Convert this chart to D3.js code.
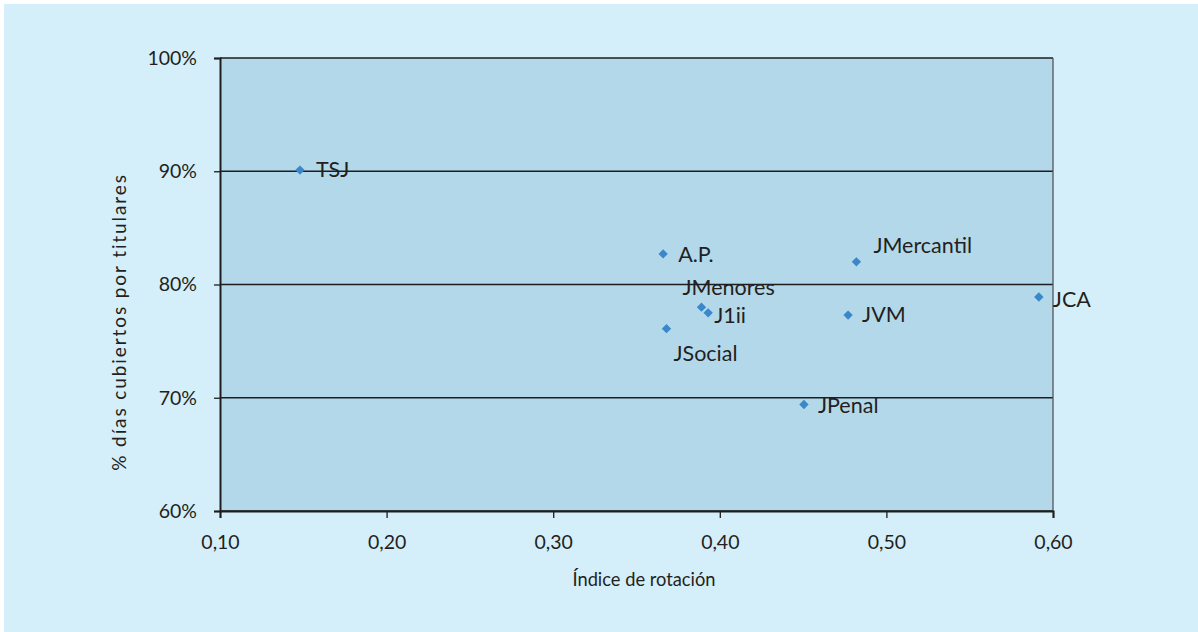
<!DOCTYPE html>
<html><head><meta charset="utf-8">
<script src="https://cdn.jsdelivr.net/npm/d3@7"></script>
<style>body{margin:0;background:#fff}svg{display:block}</style>
</head><body>
<svg id="c" width="1198" height="632"></svg>
<script>
const labels = ["TSJ","A.P.","JMenores","J1ii","JSocial","JMercantil","JVM","JPenal","JCA"];
const xValues = [0.148,0.366,0.389,0.393,0.368,0.482,0.477,0.4505,0.5915];
const yValues = [0.901,0.827,0.780,0.775,0.761,0.820,0.773,0.694,0.789];
const xTicks = [0.10,0.20,0.30,0.40,0.50,0.60];
const yTicks = [0.60,0.70,0.80,0.90,1.00];
// label offsets relative to point [dx, dy]
const labelPos = {
  "TSJ":[16,7],"A.P.":[15,8],"JMenores":[-19,-12],"J1ii":[6,10],"JSocial":[7,32],
  "JMercantil":[17,-9],"JVM":[14,7],"JPenal":[14,8],"JCA":[14,10]
};

const svg = d3.select("#c");
const font = "'Lato', 'Open Sans', sans-serif";
svg.append("rect").attr("x",4).attr("y",4).attr("width",1194).attr("height",628).attr("fill","#d4eefa");

const L=220, R=1053, T=58, B=511;
const x = d3.scaleLinear().domain([0.10,0.60]).range([L,R]);
const y = d3.scaleLinear().domain([0.60,1.00]).range([B,T]);

svg.append("rect").attr("x",L).attr("y",T).attr("width",R-L).attr("height",B-T).attr("fill","#b3d8ea");

// gridlines
svg.append("g").selectAll("line").data(yTicks).join("line")
  .attr("x1",L).attr("x2",R).attr("y1",d=>y(d)).attr("y2",d=>y(d))
  .attr("stroke","#1e1e1e").attr("stroke-width",1.3);
// right border
svg.append("line").attr("x1",R).attr("x2",R).attr("y1",T).attr("y2",B).attr("stroke","#555").attr("stroke-width",1.3);

const fmtX = d => d3.format(".2f")(d).replace(".",",");
const xAxis = svg.append("g").attr("transform",`translate(0,${B})`)
  .call(d3.axisBottom(x).tickValues(xTicks).tickFormat(fmtX).tickSize(7).tickPadding(13));
const yAxis = svg.append("g").attr("transform",`translate(${L},0)`)
  .call(d3.axisLeft(y).tickValues(yTicks).tickFormat(d3.format(".0%")).tickSize(6).tickPadding(17));
[xAxis,yAxis].forEach(a=>{
  a.select(".domain").attr("stroke","#1e1e1e").attr("stroke-width",2);
  a.selectAll(".tick line").attr("stroke","#1e1e1e").attr("stroke-width",1.3);
  a.selectAll("text").attr("font-family",font).attr("font-size",19.5).attr("fill","#231f20");
});
xAxis.selectAll("text").attr("dy","0.9em");

svg.append("text").attr("x",644).attr("y",586).attr("text-anchor","middle")
  .attr("font-family",font).attr("font-size",18.3).attr("fill","#231f20").text("Índice de rotación");
svg.append("text").attr("transform","translate(126,322) rotate(-90)").attr("text-anchor","middle")
  .attr("font-family",font).attr("font-size",19).attr("letter-spacing",1.9).attr("fill","#231f20").text("% días cubiertos por titulares");

const pts = labels.map((l,i)=>({l, x:xValues[i], y:yValues[i]}));
svg.append("g").selectAll("path").data(pts).join("path")
  .attr("d",d3.symbol(d3.symbolDiamond2,56))
  .attr("transform",d=>`translate(${x(d.x)},${y(d.y)})`)
  .attr("fill","#3a87c9");
svg.append("g").selectAll("text").data(pts).join("text")
  .attr("x",d=>x(d.x)+labelPos[d.l][0]).attr("y",d=>y(d.y)+labelPos[d.l][1])
  .attr("font-family",font).attr("font-size",21.5).attr("fill","#231f20").text(d=>d.l);
</script>
</body></html>
